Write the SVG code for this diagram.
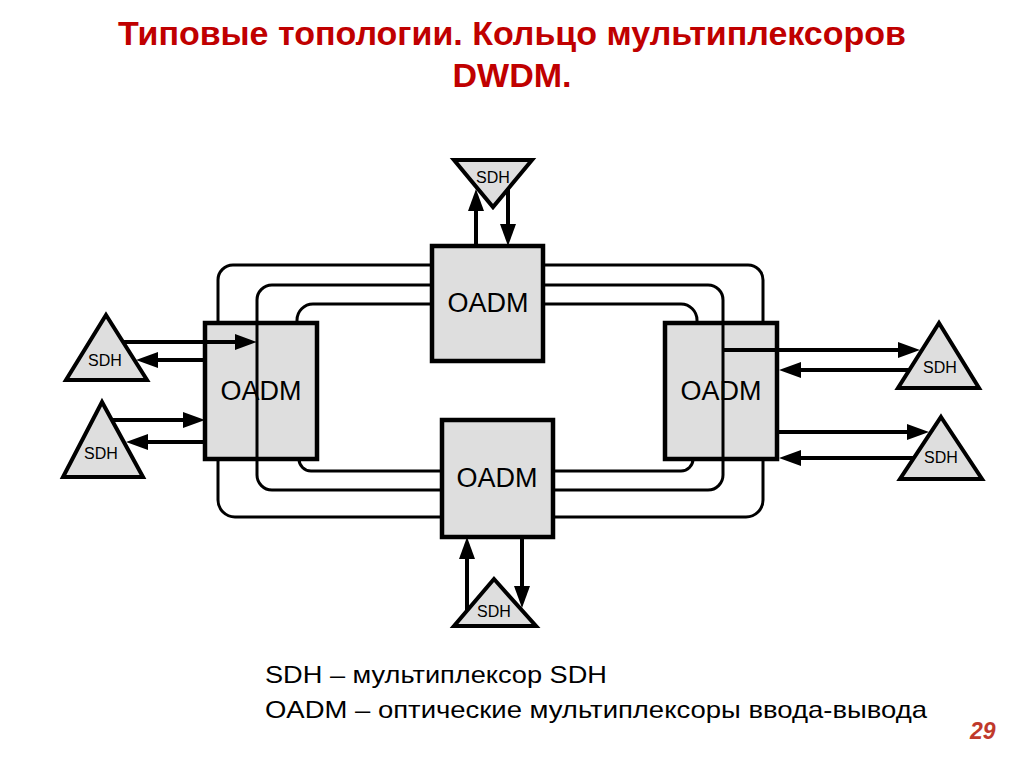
<svg xmlns="http://www.w3.org/2000/svg" width="1024" height="767" viewBox="0 0 1024 767">
<style>
.title{font-family:"Liberation Sans",Arial,sans-serif;font-weight:bold;font-size:34px;fill:#C00000;text-anchor:middle}
.box{fill:#DEDEDE;stroke:#000;stroke-width:4.5}
.tri{fill:#DEDEDE;stroke:#000;stroke-width:4;stroke-linejoin:miter}
.ring{fill:none;stroke:#000;stroke-width:3}
.arr{fill:none;stroke:#000;stroke-width:4;marker-end:url(#ah)}
.lbl{font-family:"Liberation Sans",Arial,sans-serif;font-size:27px;fill:#000;text-anchor:middle}
.sdh{font-family:"Liberation Sans",Arial,sans-serif;font-size:16px;fill:#000;text-anchor:middle}
.leg{font-family:"Liberation Sans",Arial,sans-serif;font-size:24px;fill:#000}
.num{font-family:"Liberation Sans",Arial,sans-serif;font-size:23px;font-weight:bold;font-style:italic;fill:#C0392B}
</style>
<defs>
<marker id="ah" viewBox="0 0 22 16" refX="15" refY="8" markerWidth="22" markerHeight="16" markerUnits="userSpaceOnUse" orient="auto">
<path d="M0,0 L22,8 L0,16 z" fill="#000"/>
</marker>
</defs>
<rect width="1024" height="767" fill="#fff"/>
<text class="title" x="512" y="45">Типовые топологии. Кольцо мультиплексоров</text>
<text class="title" x="512" y="87">DWDM.</text>

<g id="connectors">
<path class="ring" d="M432,265 H233 A15,15 0 0 0 218,280 V500 A17,17 0 0 0 235,517 H442"/>
<path class="ring" d="M543,265 H748 A15,15 0 0 1 763,280 V500 A17,17 0 0 1 746,517 H553"/>
<path class="ring" d="M432,304 H313 A16,16 0 0 0 297,320 V323"/>
<path class="ring" d="M299,459 A12,12 0 0 0 311,471 H442"/>
<path class="ring" d="M543,304 H681 A16,16 0 0 1 697,320 V323"/>
<path class="ring" d="M693,459 A12,12 0 0 1 681,471 H553"/>
</g>

<g id="oadm-left"><rect class="box" x="205" y="323" width="112" height="136"/></g>
<g id="oadm-right"><rect class="box" x="665" y="323" width="112" height="136"/></g>

<g id="connectors-middle">
<path class="ring" d="M432,285 H272 A15,15 0 0 0 257,300 V475 A15,15 0 0 0 272,490 H442"/>
<path class="ring" d="M543,285 H708 A15,15 0 0 1 723,300 V475 A15,15 0 0 1 708,490 H553"/>
</g>

<g id="oadm-top"><rect class="box" x="432" y="246" width="111" height="115"/><text class="lbl" x="488" y="312">OADM</text></g>
<g id="oadm-bottom"><rect class="box" x="442" y="420" width="111" height="117"/><text class="lbl" x="497" y="487">OADM</text></g>
<g id="oadm-left-label"><text class="lbl" x="261" y="400">OADM</text></g>
<g id="oadm-right-label"><text class="lbl" x="721" y="400">OADM</text></g>

<g id="sdh-top"><polygon class="tri" points="454,160 532,160 493,207"/><text class="sdh" x="493" y="183">SDH</text></g>
<g id="sdh-bottom"><polygon class="tri" points="494,579 536,626 454,626"/><text class="sdh" x="494" y="617">SDH</text></g>
<g id="sdh-left1"><polygon class="tri" points="106,315 147,380 66,380"/><text class="sdh" x="105" y="366">SDH</text></g>
<g id="sdh-left2"><polygon class="tri" points="102,402 143,477 63,477"/><text class="sdh" x="101" y="459">SDH</text></g>
<g id="sdh-right1"><polygon class="tri" points="939,323 979,388 898,388"/><text class="sdh" x="940" y="373">SDH</text></g>
<g id="sdh-right2"><polygon class="tri" points="941,417 982,479 900,479"/><text class="sdh" x="941" y="463">SDH</text></g>

<g id="arrows">
<line class="arr" x1="476" y1="246" x2="476" y2="196"/>
<line class="arr" x1="508" y1="189" x2="508" y2="239"/>
<line class="arr" x1="467" y1="611" x2="467" y2="544"/>
<line class="arr" x1="522" y1="537" x2="522" y2="601"/>
<line class="arr" x1="123" y1="342" x2="250" y2="342"/>
<line class="arr" x1="205" y1="360" x2="143" y2="360"/>
<line class="arr" x1="112" y1="420" x2="198" y2="420"/>
<line class="arr" x1="205" y1="442" x2="133" y2="442"/>
<line class="arr" x1="723" y1="350" x2="913" y2="350"/>
<line class="arr" x1="909" y1="370" x2="786" y2="370"/>
<line class="arr" x1="777" y1="432" x2="922" y2="432"/>
<line class="arr" x1="914" y1="458" x2="786" y2="458"/>
</g>

<text class="leg" x="265" y="683" textLength="342" lengthAdjust="spacingAndGlyphs">SDH – мультиплексор SDH</text>
<text class="leg" x="265" y="718" textLength="662" lengthAdjust="spacingAndGlyphs">OADM – оптические мультиплексоры ввода-вывода</text>
<text class="num" x="970" y="739">29</text>
</svg>
